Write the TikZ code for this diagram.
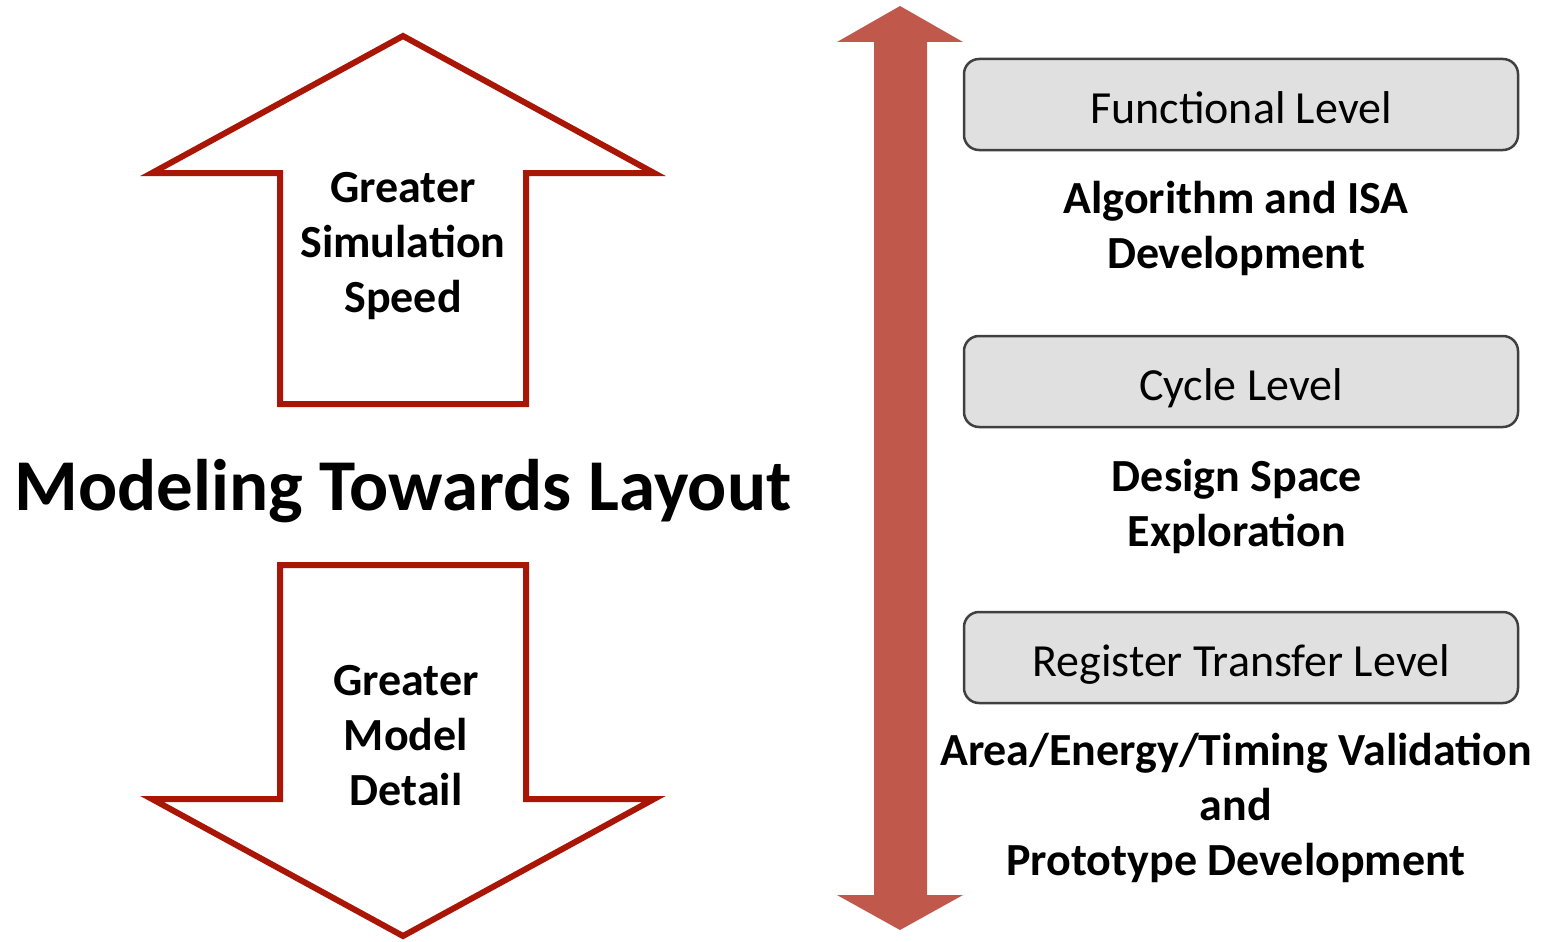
\documentclass[tikz,border=0pt]{standalone}
\usepackage{fontspec}
\setmainfont{Carlito}
\definecolor{hollowred}{RGB}{170,22,6}
\definecolor{barred}{RGB}{192,88,75}
\definecolor{boxfill}{RGB}{224,224,224}
\definecolor{boxline}{RGB}{64,64,64}
\begin{document}
\begin{tikzpicture}[x=1pt,y=-1pt,
  hollow/.style={draw=hollowred,line width=6pt,fill=white,line join=miter},
  bar/.style={fill=barred},
  levelbox/.style={draw=boxline,line width=2.5pt,fill=boxfill,rounded corners=15pt,
    minimum width=554pt,minimum height=91pt,inner sep=0pt,
    font=\fontsize{46}{55}\selectfont,text height=38pt,text depth=0pt},
  bigtext/.style={font=\fontsize{46}{55}\selectfont\bfseries,align=center,inner sep=0pt},
  titletext/.style={font=\fontsize{73}{87}\selectfont\bfseries,inner sep=0pt}]
\useasboundingbox (0,0) rectangle (1547,942);

% hollow up arrow
\draw[hollow] (403,36) -- (654,173) -- (526,173) -- (526,404) -- (280,404)
  -- (280,173) -- (152,173) -- cycle;
% hollow down arrow
\draw[hollow] (280,565) -- (526,565) -- (526,799) -- (654,799) -- (403,936)
  -- (152,799) -- (280,799) -- cycle;

% double bar arrow
\fill[bar] (900,6) -- (963,42) -- (927,42) -- (927,895) -- (963,895) -- (900,930)
  -- (837,895) -- (874,895) -- (874,42) -- (837,42) -- cycle;

\node[bigtext] (speed) at (403,246.5) {Greater\\Simulation\\Speed};
\node[bigtext] (detail) at (406,735.5) {Greater\\Model\\Detail};
\node[titletext,anchor=base] (title) at (403,510) {Modeling Towards Layout};

\node[levelbox] (func) at (1241,104.5) {Functional Level};
\node[levelbox] (cycle) at (1241,381.5) {Cycle Level};
\node[levelbox] (rtl) at (1241,657.5) {Register Transfer Level};

\node[bigtext] (isa) at (1236,228.5) {Algorithm and ISA\\Development};
\node[bigtext] (dse) at (1237,506) {Design Space\\Exploration};
\node[bigtext] (valid) at (1236,808) {Area/Energy/Timing Validation\\and\\Prototype Development};
\end{tikzpicture}
\end{document}
